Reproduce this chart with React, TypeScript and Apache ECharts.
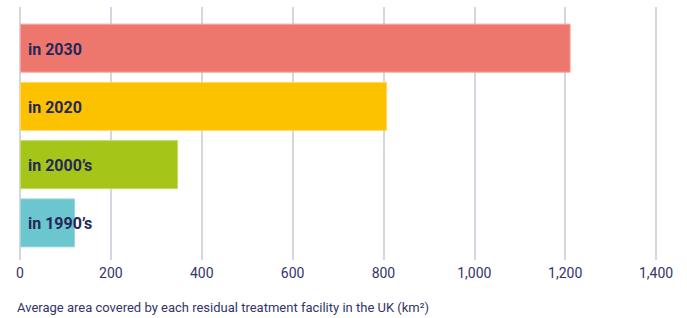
import React, { useEffect, useRef } from "react";
import * as echarts from "echarts";

const categories = ["in 1990’s", "in 2000’s", "in 2020", "in 2030"];
const values = [121, 348, 808, 1212];
const barColors = ["#6CC6CF", "#A5C618", "#FCC200", "#EE776D"];
const borderColors = ["#9ad8de", "#c3d96a", "#fdd866", "#f4a39c"];
const axisTitle = "Average area covered by each residual treatment facility in the UK (km²)";

export default function App() {
  const ref = useRef<HTMLDivElement>(null);
  useEffect(() => {
    document.body.style.margin = "0";
    const chart = echarts.init(ref.current!, null, { renderer: "svg" });
    const textColor = "#33356a";
    chart.setOption({
      animation: false,
      title: {
        text: axisTitle,
        left: 12,
        top: 296,
        textStyle: { fontFamily: "Roboto", fontSize: 13, fontWeight: "normal", color: textColor },
      },
      grid: [
        { left: 20, right: 31, top: 7, height: 253 },
        { left: 20, right: 31, top: 19, height: 233 },
      ],
      xAxis: [
        {
          gridIndex: 0,
          type: "value",
          min: 0,
          max: 1400,
          interval: 200,
          axisLine: { show: false },
          axisTick: { show: false },
          splitLine: { show: true, lineStyle: { color: "#c9c9d9", width: 1.5 } },
          axisLabel: {
            margin: 6,
            fontFamily: "Roboto",
            fontSize: 14,
            color: textColor,
            formatter: (v: number) => v.toLocaleString("en-US"),
          },
        },
        {
          gridIndex: 1,
          type: "value",
          min: 0,
          max: 1400,
          show: false,
        },
      ],
      yAxis: [
        { gridIndex: 0, type: "category", data: categories, show: false },
        {
          gridIndex: 1,
          type: "category",
          data: categories,
          axisLine: { show: false },
          axisTick: { show: false },
          axisLabel: { show: false },
        },
      ],
      series: [
        {
          type: "bar",
          xAxisIndex: 1,
          yAxisIndex: 1,
          barWidth: 49,
          data: values.map((v, i) => ({
            value: v,
            itemStyle: { color: barColors[i], borderColor: borderColors[i], borderWidth: 1 },
          })),
          label: {
            show: true,
            position: "insideLeft",
            offset: [3, 1],
            formatter: (p: any) => categories[p.dataIndex],
            fontFamily: "Roboto",
            fontWeight: "bold",
            fontSize: 16,
            color: "#25275a",
          },
        },
      ],
    });
    return () => chart.dispose();
  }, []);
  return <div ref={ref} style={{ width: 687, height: 318 }} />;
}
